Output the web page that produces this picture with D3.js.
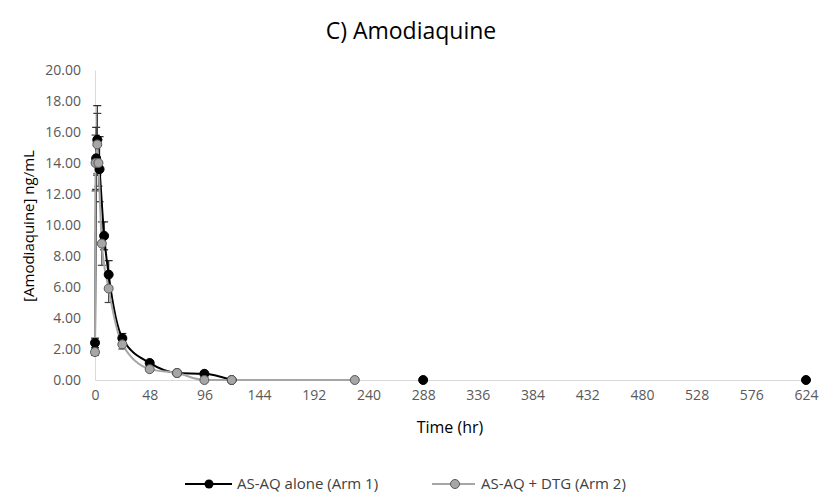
<!DOCTYPE html>
<html><head><meta charset="utf-8">
<script src="https://cdn.jsdelivr.net/npm/d3@7"></script>
<style>body{margin:0;background:#fff}svg{display:block}text{font-family:"Open Sans",sans-serif}</style>
</head><body><svg id="c" width="824" height="500"></svg>
<script>
const title = "C) Amodiaquine";
const xTicks = [0,48,96,144,192,240,288,336,384,432,480,528,576,624];
const yTicks = [0,2,4,6,8,10,12,14,16,18,20];
const seriesNames = ["AS-AQ alone (Arm 1)", "AS-AQ + DTG (Arm 2)"];
const arm1Time = [0,1,2,4,8,12,24,48,72,96,120,288,624];
const arm1Conc = [2.4,14.3,15.5,13.6,9.3,6.8,2.7,1.1,0.45,0.4,0,0,0];
const arm1Err  = [0.3,2.0,2.2,2.1,0.9,0.9,0.3,0.15,0,0.1,0,0,0];
const arm2Time = [0,0.5,2,3,6,12,24,48,72,96,120,228];
const arm2Conc = [1.8,14.0,15.2,14.0,8.8,5.9,2.3,0.7,0.45,0,0,0];
const arm2Err  = [0.2,1.8,2.0,1.5,1.4,0.9,0.3,0.1,0,0,0,0];

const svg = d3.select("#c");
const x = d3.scaleLinear().domain([0,624]).range([95,806]);
const y = d3.scaleLinear().domain([0,20]).range([380,70]);

svg.append("text").attr("x",411).attr("y",39).attr("text-anchor","middle")
  .attr("font-size",23).attr("fill","#000").text(title);

// axes
const ya = svg.append("g").attr("transform","translate(95,0)")
  .call(d3.axisLeft(y).tickValues(yTicks).tickSize(0).tickPadding(14).tickFormat(d3.format(".2f")));
const xa = svg.append("g").attr("transform","translate(0,380)")
  .call(d3.axisBottom(x).tickValues(xTicks).tickSize(0).tickPadding(10).tickFormat(d3.format("d")));
[ya,xa].forEach(g=>{
  g.select(".domain").attr("stroke","#d9d9d9").attr("stroke-width",1);
  g.selectAll("text").attr("font-size",14).attr("fill","#595959").attr("font-family","'Open Sans',sans-serif");
});
svg.append("text").attr("x",450).attr("y",433).attr("text-anchor","middle")
  .attr("font-size",16).attr("fill","#000").text("Time (hr)");
svg.append("text").attr("transform","translate(34,226) rotate(-90)").attr("text-anchor","middle")
  .attr("font-size",15).attr("fill","#000").text("[Amodiaquine] ng/mL");

const mk = (t,c,e)=>t.map((d,i)=>({t:d,c:c[i],e:e[i]}));
const arm1 = mk(arm1Time,arm1Conc,arm1Err);
const arm2 = mk(arm2Time,arm2Conc,arm2Err);

const line = d3.line().x(d=>x(d.t)).y(d=>y(d.c)).curve(d3.curveMonotoneX);

function errBars(data,color){
  const g = svg.append("g").attr("stroke",color).attr("stroke-width",1.2);
  data.filter(d=>d.e>0).forEach(d=>{
    g.append("line").attr("x1",x(d.t)).attr("x2",x(d.t)).attr("y1",y(d.c-d.e)).attr("y2",y(d.c+d.e));
    [d.c-d.e,d.c+d.e].forEach(v=>g.append("line").attr("x1",x(d.t)-4).attr("x2",x(d.t)+4).attr("y1",y(v)).attr("y2",y(v)));
  });
}
errBars(arm1,"#262626");
errBars(arm2,"#404040");

svg.append("path").datum(arm1.filter(d=>d.t<=120)).attr("d",line)
  .attr("fill","none").attr("stroke","#000").attr("stroke-width",2);
svg.append("path").datum(arm2).attr("d",line)
  .attr("fill","none").attr("stroke","#a6a6a6").attr("stroke-width",2);

svg.append("g").selectAll("circle").data(arm1).join("circle")
  .attr("cx",d=>x(d.t)).attr("cy",d=>y(d.c)).attr("r",4.5).attr("fill","#000").attr("stroke","#000");
svg.append("g").selectAll("circle").data(arm2).join("circle")
  .attr("cx",d=>x(d.t)).attr("cy",d=>y(d.c)).attr("r",4.5).attr("fill","#a6a6a6").attr("stroke","#595959").attr("stroke-width",1);

// legend
const lg = svg.append("g");
const ly = 484;
lg.append("line").attr("x1",185).attr("x2",232).attr("y1",ly).attr("y2",ly).attr("stroke","#000").attr("stroke-width",2);
lg.append("circle").attr("cx",209).attr("cy",ly).attr("r",4.5).attr("fill","#000");
lg.append("text").attr("x",237).attr("y",ly+5).attr("font-size",15).attr("fill","#404040").text(seriesNames[0]);
lg.append("line").attr("x1",432).attr("x2",475).attr("y1",ly).attr("y2",ly).attr("stroke","#a6a6a6").attr("stroke-width",2);
lg.append("circle").attr("cx",455).attr("cy",ly).attr("r",4.5).attr("fill","#a6a6a6").attr("stroke","#595959");
lg.append("text").attr("x",481).attr("y",ly+5).attr("font-size",15).attr("fill","#404040").text(seriesNames[1]);
</script></body></html>
